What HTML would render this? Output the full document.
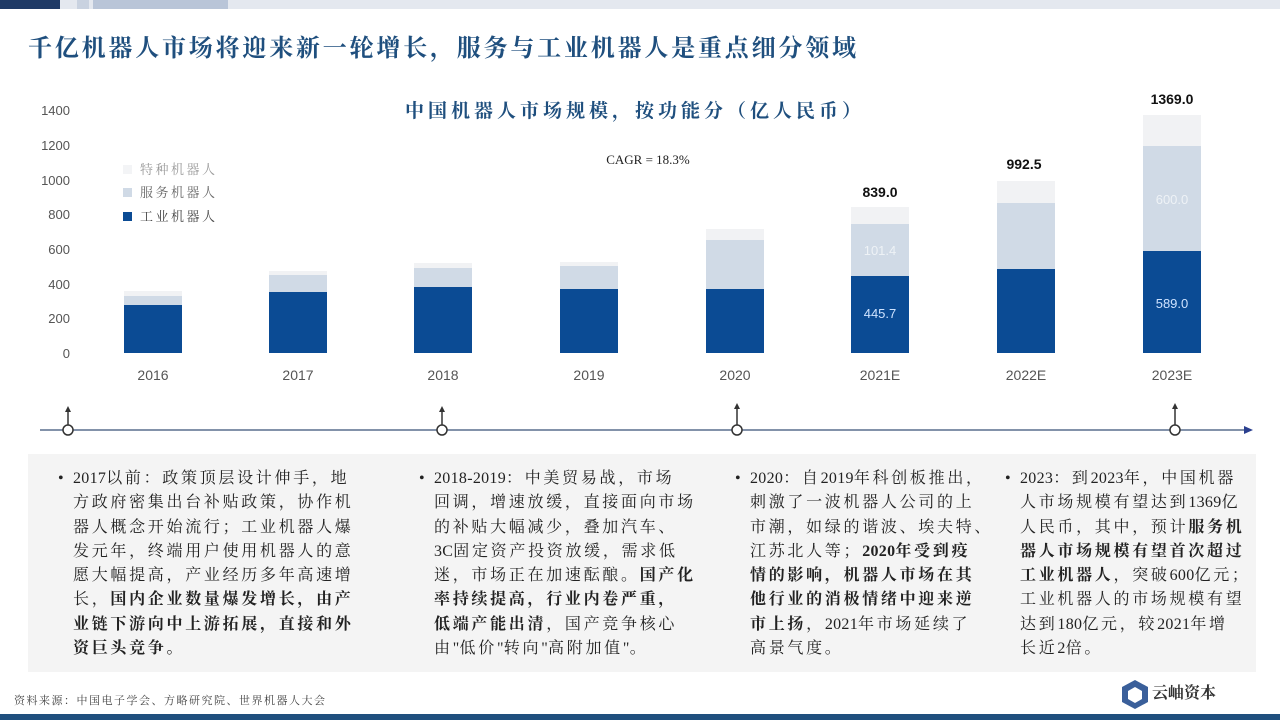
<!DOCTYPE html>
<html><head><meta charset="utf-8"><style>
body{margin:0;width:1280px;height:720px;background:#fff;position:relative;overflow:hidden;font-family:"Liberation Sans","Noto Serif CJK SC",serif}
.a{position:absolute}
.t{font-family:"Liberation Serif","Noto Serif CJK SC",serif;color:#222;font-size:16px;letter-spacing:2.7px;line-height:24.3px;white-space:nowrap}
.t b{font-weight:bold}
.t i{font-style:normal;letter-spacing:0.3px}
.t span{position:absolute;left:-15px}
</style></head><body>
<div class="a" style="left:0;top:0;width:1280px;height:9px;background:#e4e8ef"></div>
<div class="a" style="left:0;top:0;width:60px;height:9px;background:#1f3a66"></div>
<div class="a" style="left:77px;top:0;width:12px;height:9px;background:#c9d2e0"></div>
<div class="a" style="left:93px;top:0;width:135px;height:9px;background:#b9c5d8"></div>
<div class="a" style="left:0;top:714px;width:1280px;height:6px;background:#1f4f7e"></div>
<div class="a" style="left:28px;top:28px;font-family:'Noto Serif CJK SC',serif;font-size:24px;font-weight:bold;color:#1f4f7e;letter-spacing:2.8px;white-space:nowrap">千亿机器人市场将迎来新一轮增长，服务与工业机器人是重点细分领域</div>
<svg class="a" style="left:0;top:0" width="1280" height="450">
<g font-family="Liberation Sans" font-size="13" fill="#555" text-anchor="end">
<text x="70" y="115">1400</text><text x="70" y="150">1200</text><text x="70" y="185">1000</text><text x="70" y="219">800</text><text x="70" y="254">600</text><text x="70" y="289">400</text><text x="70" y="323">200</text><text x="70" y="358">0</text></g>
<text x="405" y="117" font-family="Noto Serif CJK SC" font-size="19" font-weight="bold" fill="#1f4f7e" letter-spacing="4">中国机器人市场规模，按功能分（亿人民币）</text>
<text x="648" y="164" font-family="Liberation Serif" font-size="13" fill="#222" text-anchor="middle">CAGR = 18.3%</text>
<rect x="123" y="165" width="9" height="9" fill="#f3f4f6"/><text x="140" y="174" font-family="Noto Serif CJK SC" font-size="13" letter-spacing="2.5" fill="#999">特种机器人</text>
<rect x="123" y="188" width="9" height="9" fill="#d0dae6"/><text x="140" y="197" font-family="Noto Serif CJK SC" font-size="13" letter-spacing="2.5" fill="#666">服务机器人</text>
<rect x="123" y="212" width="9" height="9" fill="#0b4b94"/><text x="140" y="221" font-family="Noto Serif CJK SC" font-size="13" letter-spacing="2.5" fill="#444">工业机器人</text>
<g>
<rect x="124" y="291" width="58" height="62" fill="#f1f2f4"/><rect x="124" y="296" width="58" height="57" fill="#d0dae6"/><rect x="124" y="305" width="58" height="48" fill="#0b4b94"/>
<rect x="269" y="271" width="58" height="82" fill="#f1f2f4"/><rect x="269" y="275" width="58" height="78" fill="#d0dae6"/><rect x="269" y="292" width="58" height="61" fill="#0b4b94"/>
<rect x="414" y="263" width="58" height="90" fill="#f1f2f4"/><rect x="414" y="268" width="58" height="85" fill="#d0dae6"/><rect x="414" y="287" width="58" height="66" fill="#0b4b94"/>
<rect x="560" y="262" width="58" height="91" fill="#f1f2f4"/><rect x="560" y="266" width="58" height="87" fill="#d0dae6"/><rect x="560" y="289" width="58" height="64" fill="#0b4b94"/>
<rect x="706" y="229" width="58" height="124" fill="#f1f2f4"/><rect x="706" y="240" width="58" height="113" fill="#d0dae6"/><rect x="706" y="289" width="58" height="64" fill="#0b4b94"/>
<rect x="851" y="207" width="58" height="146" fill="#f1f2f4"/><rect x="851" y="224" width="58" height="129" fill="#d0dae6"/><rect x="851" y="276" width="58" height="77" fill="#0b4b94"/>
<rect x="997" y="181" width="58" height="172" fill="#f1f2f4"/><rect x="997" y="203" width="58" height="150" fill="#d0dae6"/><rect x="997" y="269" width="58" height="84" fill="#0b4b94"/>
<rect x="1143" y="115" width="58" height="238" fill="#f1f2f4"/><rect x="1143" y="146" width="58" height="207" fill="#d0dae6"/><rect x="1143" y="251" width="58" height="102" fill="#0b4b94"/>
</g>
<g font-family="Liberation Sans" font-size="13" text-anchor="middle">
<text x="880" y="318" fill="#cfe3ff">445.7</text><text x="1172" y="308" fill="#cfe3ff">589.0</text>
<text x="880" y="255" fill="#eef2f6">101.4</text><text x="1172" y="204" fill="#eef2f6">600.0</text>
<g font-weight="bold" fill="#111" font-size="14"><text x="880" y="197">839.0</text><text x="1024" y="169">992.5</text><text x="1172" y="104">1369.0</text></g>
<g fill="#555" font-size="14"><text x="153" y="380">2016</text><text x="298" y="380">2017</text><text x="443" y="380">2018</text><text x="589" y="380">2019</text><text x="735" y="380">2020</text><text x="880" y="380">2021E</text><text x="1026" y="380">2022E</text><text x="1172" y="380">2023E</text></g></g>
<line x1="40" y1="430" x2="1248" y2="430" stroke="#5a6f8e" stroke-width="1.5"/>
<polygon points="1253,430 1244,426 1244,434" fill="#2a3f8f"/>
<g stroke="#333" stroke-width="1.5" fill="#fff">
<line x1="68" y1="410" x2="68" y2="425"/><line x1="442" y1="410" x2="442" y2="425"/><line x1="737" y1="406" x2="737" y2="425"/><line x1="1175" y1="406" x2="1175" y2="425"/>
<circle cx="68" cy="430" r="5"/><circle cx="442" cy="430" r="5"/><circle cx="737" cy="430" r="5"/><circle cx="1175" cy="430" r="5"/></g>
<g fill="#333"><polygon points="68,406 65,412 71,412"/><polygon points="442,406 439,412 445,412"/><polygon points="737,403 734,409 740,409"/><polygon points="1175,403 1172,409 1178,409"/></g>
</svg>
<div class="a" style="left:28px;top:454px;width:1228px;height:218px;background:#f4f4f4"></div>
<div class="a t" style="left:73px;top:467px"><span>•</span><i>2017</i>以前：政策顶层设计伸手，地<br>方政府密集出台补贴政策，协作机<br>器人概念开始流行；工业机器人爆<br>发元年，终端用户使用机器人的意<br>愿大幅提高，产业经历多年高速增<br>长，<b>国内企业数量爆发增长，由产</b><br><b>业链下游向中上游拓展，直接和外</b><br><b>资巨头竞争。</b></div>
<div class="a t" style="left:434px;top:467px"><span>•</span><i>2018-2019</i>：中美贸易战，市场<br>回调，增速放缓，直接面向市场<br>的补贴大幅减少，叠加汽车、<br><i>3C</i>固定资产投资放缓，需求低<br>迷，市场正在加速酝酿。<b>国产化</b><br><b>率持续提高，行业内卷严重，</b><br><b>低端产能出清</b>，国产竞争核心<br>由<i>"</i>低价<i>"</i>转向<i>"</i>高附加值<i>"</i>。</div>
<div class="a t" style="left:750px;top:467px"><span>•</span><i>2020</i>：自<i>2019</i>年科创板推出，<br>刺激了一波机器人公司的上<br>市潮，如绿的谐波、埃夫特、<br>江苏北人等；<b><i>2020</i>年受到疫</b><br><b>情的影响，机器人市场在其</b><br><b>他行业的消极情绪中迎来逆</b><br><b>市上扬</b>，<i>2021</i>年市场延续了<br>高景气度。</div>
<div class="a t" style="left:1020px;top:467px"><span>•</span><i>2023</i>：到<i>2023</i>年，中国机器<br>人市场规模有望达到<i>1369</i>亿<br>人民币，其中，预计<b>服务机</b><br><b>器人市场规模有望首次超过</b><br><b>工业机器人</b>，突破<i>600</i>亿元；<br>工业机器人的市场规模有望<br>达到<i>180</i>亿元，较<i>2021</i>年增<br>长近<i>2</i>倍。</div>
<div class="a" style="left:14px;top:692px;font-family:'Noto Serif CJK SC',serif;font-size:11px;letter-spacing:1.5px;color:#444">资料来源：中国电子学会、方略研究院、世界机器人大会</div>
<svg class="a" style="left:1120px;top:678px" width="30" height="32"><polygon points="15,2 28,9 28,24 15,31 2,24 2,9" fill="#3a5f9a"/><polygon points="15,9 22,13 22,21 15,25 8,21 8,13" fill="#fff"/></svg>
<div class="a" style="left:1152px;top:680px;font-family:'Noto Serif CJK SC',serif;font-size:16px;font-weight:bold;color:#333">云岫资本</div>
</body></html>
